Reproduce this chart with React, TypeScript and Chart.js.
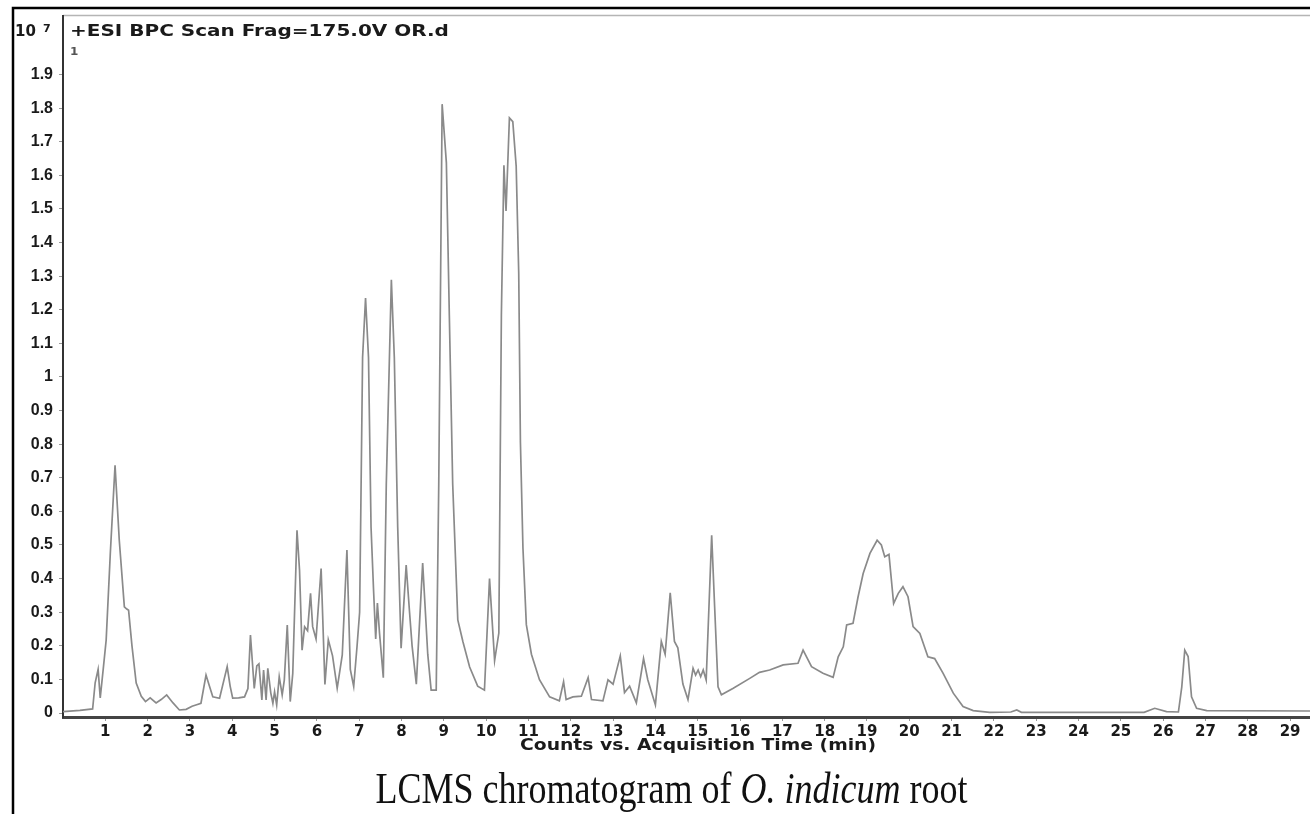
import React, { useEffect, useRef } from 'react';
import { Chart, registerables } from 'chart.js';

Chart.register(...registerables);

// Acquisition time (min)
const times = [
  0.0, 0.4, 0.7, 0.76, 0.83, 0.88, 0.95, 1.02, 1.12, 1.23, 1.33, 1.45, 1.5, 1.55, 1.63, 1.73, 1.85, 1.95,
  2.06, 2.2, 2.32, 2.45, 2.6, 2.75, 2.91, 3.05, 3.14, 3.26, 3.38, 3.46, 3.54, 3.7, 3.88, 3.95, 4.01, 4.15,
  4.29, 4.37, 4.43, 4.52, 4.58, 4.63, 4.7, 4.74, 4.8, 4.84, 4.91, 4.96, 5.0, 5.05, 5.11, 5.18, 5.23, 5.3,
  5.37, 5.43, 5.53, 5.59, 5.65, 5.71, 5.78, 5.85, 5.9, 5.98, 6.1, 6.19, 6.27, 6.37, 6.48, 6.6, 6.71, 6.79,
  6.87, 6.95, 7.01, 7.08, 7.15, 7.22, 7.28, 7.34, 7.39, 7.43, 7.48, 7.57, 7.64, 7.76, 7.83, 7.91, 7.99,
  8.11, 8.19, 8.25, 8.35, 8.5, 8.62, 8.7, 8.82, 8.88, 8.96, 9.06, 9.13, 9.21, 9.33, 9.45, 9.61, 9.8, 9.96,
  10.08, 10.2, 10.3, 10.36, 10.42, 10.47, 10.55, 10.63, 10.71, 10.77, 10.81, 10.87, 10.95, 11.07, 11.26,
  11.5, 11.73, 11.83, 11.89, 12.05, 12.25, 12.41, 12.49, 12.76, 12.88, 13.0, 13.17, 13.27, 13.39, 13.55,
  13.72, 13.82, 14.0, 14.14, 14.23, 14.35, 14.45, 14.53, 14.65, 14.77, 14.89, 14.95, 15.01, 15.07, 15.13,
  15.2, 15.33, 15.4, 15.48, 15.56, 15.83, 16.23, 16.46, 16.7, 17.02, 17.37, 17.49, 17.69, 17.96, 18.2,
  18.32, 18.44, 18.52, 18.67, 18.79, 18.91, 19.07, 19.24, 19.34, 19.42, 19.52, 19.63, 19.74, 19.85, 19.97,
  20.09, 20.25, 20.44, 20.6, 20.8, 21.04, 21.27, 21.51, 21.9, 22.4, 22.54, 22.65, 25.55, 25.8, 26.08,
  26.36, 26.44, 26.51, 26.59, 26.67, 26.79, 27.03, 29.5,
];

// Counts (x10^7)
const counts = [
  0.004, 0.008, 0.012, 0.09, 0.13, 0.045, 0.13, 0.217, 0.48, 0.737, 0.514, 0.316, 0.31, 0.306, 0.2, 0.089, 0.05, 0.034,
  0.045, 0.03, 0.04, 0.054, 0.03, 0.009, 0.011, 0.02, 0.024, 0.029, 0.113, 0.08, 0.048, 0.044, 0.138, 0.08, 0.044, 0.045,
  0.048, 0.073, 0.232, 0.073, 0.14, 0.146, 0.039, 0.128, 0.039, 0.133, 0.06, 0.029, 0.063, 0.024, 0.108, 0.054, 0.098, 0.262,
  0.034, 0.118, 0.544, 0.425, 0.187, 0.257, 0.245, 0.356, 0.257, 0.22, 0.43, 0.085, 0.218, 0.17, 0.074, 0.173, 0.485, 0.13,
  0.079, 0.2, 0.3, 1.058, 1.235, 1.058, 0.553, 0.364, 0.22, 0.327, 0.238, 0.105, 0.68, 1.289, 1.058, 0.553, 0.193,
  0.44, 0.3, 0.2, 0.086, 0.446, 0.175, 0.068, 0.068, 0.68, 1.812, 1.638, 1.184, 0.68, 0.277, 0.213, 0.137, 0.08, 0.068,
  0.4, 0.156, 0.238, 1.184, 1.63, 1.494, 1.771, 1.76, 1.627, 1.31, 0.806, 0.49, 0.263, 0.175, 0.099,
  0.048, 0.036, 0.093, 0.04, 0.048, 0.05, 0.105, 0.04, 0.036, 0.099, 0.086, 0.17, 0.061, 0.08, 0.03,
  0.162, 0.099, 0.024, 0.213, 0.175, 0.358, 0.213, 0.194, 0.086, 0.04, 0.133, 0.113, 0.128, 0.108, 0.128,
  0.098, 0.529, 0.316, 0.078, 0.054, 0.073, 0.103, 0.121, 0.128, 0.143, 0.148, 0.187, 0.138, 0.118, 0.106,
  0.167, 0.197, 0.262, 0.267, 0.346, 0.415, 0.475, 0.514, 0.5, 0.465, 0.472, 0.326, 0.356, 0.376, 0.346,
  0.257, 0.237, 0.167, 0.162, 0.118, 0.059, 0.019, 0.007, 0.002, 0.003, 0.009, 0.002, 0.002, 0.014, 0.004,
  0.003, 0.078, 0.187, 0.168, 0.048, 0.014, 0.007, 0.006,
];

const xTickValues = [1, 2, 3, 4, 5, 6, 7, 8, 9, 10, 11, 12, 13, 14, 15, 16, 17, 18, 19, 20, 21, 22, 23, 24, 25, 26, 27, 28, 29];
const yTickValues = [0, 0.1, 0.2, 0.3, 0.4, 0.5, 0.6, 0.7, 0.8, 0.9, 1, 1.1, 1.2, 1.3, 1.4, 1.5, 1.6, 1.7, 1.8, 1.9];
const yTickLabels = ['0', '0.1', '0.2', '0.3', '0.4', '0.5', '0.6', '0.7', '0.8', '0.9', '1', '1.1', '1.2', '1.3', '1.4', '1.5', '1.6', '1.7', '1.8', '1.9'];

const traceLabel = '+ESI BPC Scan Frag=175.0V OR.d';
const traceIndex = '1';
const exponentBase = '10';
const exponentPower = '7';
const xAxisTitle = 'Counts vs. Acquisition Time (min)';
const captionParts = [
  { text: 'LCMS chromatogram of ', italic: false },
  { text: 'O. indicum', italic: true },
  { text: ' root', italic: false },
];

function drawStretched(ctx: CanvasRenderingContext2D, text: string, x: number, y: number, font: string, sx: number, sy: number, align: CanvasTextAlign, color: string) {
  ctx.save();
  ctx.translate(x, y);
  ctx.scale(sx, sy);
  ctx.font = font;
  ctx.textAlign = align;
  ctx.textBaseline = 'alphabetic';
  ctx.fillStyle = color;
  ctx.fillText(text, 0, 0);
  ctx.restore();
}

const decorPlugin = {
  id: 'decor',
  beforeDraw(chart: any) {
    const ctx: CanvasRenderingContext2D = chart.ctx;
    const { left, top, right } = chart.chartArea;
    ctx.save();
    ctx.fillStyle = '#ffffff';
    ctx.fillRect(0, 0, chart.width, chart.height);
    ctx.strokeStyle = '#000000';
    ctx.lineWidth = 2.5;
    ctx.beginPath();
    ctx.moveTo(13, chart.height);
    ctx.lineTo(13, 8);
    ctx.lineTo(chart.width, 8);
    ctx.stroke();
    ctx.strokeStyle = '#b5b5b5';
    ctx.lineWidth = 1.5;
    ctx.beginPath();
    ctx.moveTo(left, top);
    ctx.lineTo(right, top);
    ctx.stroke();
    ctx.restore();
  },
  afterDraw(chart: any) {
    const ctx: CanvasRenderingContext2D = chart.ctx;
    drawStretched(ctx, traceLabel, 70, 36, 'bold 16px "DejaVu Sans"', 1.25, 1, 'left', '#1a1a1a');
    drawStretched(ctx, traceIndex, 70, 55, 'bold 10px "DejaVu Sans"', 1.2, 1, 'left', '#555555');
    drawStretched(ctx, exponentBase, 15, 36, 'bold 15px "DejaVu Sans"', 1, 1, 'left', '#1a1a1a');
    drawStretched(ctx, exponentPower, 43, 32, 'bold 11px "DejaVu Sans"', 1, 1, 'left', '#1a1a1a');
    drawStretched(ctx, xAxisTitle, 698, 750, 'bold 15px "DejaVu Sans"', 1.25, 1, 'center', '#1a1a1a');

    // caption with mixed styles
    const fontN = '36px "Liberation Serif"';
    const fontI = 'italic 36px "Liberation Serif"';
    ctx.save();
    let total = 0;
    const widths = captionParts.map((p) => {
      ctx.font = p.italic ? fontI : fontN;
      const w = ctx.measureText(p.text).width;
      total += w;
      return w;
    });
    let x = 671.5 - total / 2;
    captionParts.forEach((p, i) => {
      drawStretched(ctx, p.text, x, 803, p.italic ? fontI : fontN, 1, 1.25, 'left', '#111111');
      x += widths[i];
    });
    ctx.restore();
  },
};

export default function App() {
  const canvasRef = useRef<HTMLCanvasElement | null>(null);

  useEffect(() => {
    if (!canvasRef.current) return;
    const points = times.map((t, i) => ({ x: t, y: counts[i] }));
    const chart = new Chart(canvasRef.current, {
      type: 'line',
      data: {
        datasets: [
          {
            label: traceLabel,
            data: points,
            borderColor: '#8a8a8a',
            borderWidth: 1.7,
            pointRadius: 0,
            tension: 0,
            fill: false,
          },
        ],
      },
      options: {
        responsive: false,
        devicePixelRatio: 1,
        animation: false,
        layout: { padding: { top: 15, left: 0, right: 0, bottom: 0 } },
        plugins: {
          legend: { display: false },
          tooltip: { enabled: false },
          title: { display: false },
        },
        scales: {
          x: {
            type: 'linear',
            min: 0,
            max: 29.47,
            afterBuildTicks: (scale: any) => {
              scale.ticks = xTickValues.map((v) => ({ value: v }));
            },
            afterFit: (scale: any) => {
              scale.height = 97;
            },
            grid: { drawOnChartArea: false, drawTicks: true, tickLength: 4, color: '#999999' },
            border: { display: true, color: '#444444', width: 3 },
            ticks: {
              autoSkip: false,
              maxRotation: 0,
              padding: 2,
              color: '#1a1a1a',
              font: { family: '"DejaVu Sans"', weight: 'bold', size: 15 },
            },
          },
          y: {
            type: 'linear',
            min: -0.0119,
            max: 2.0755,
            afterBuildTicks: (scale: any) => {
              scale.ticks = yTickValues.map((v) => ({ value: v }));
            },
            afterFit: (scale: any) => {
              scale.width = 63;
            },
            grid: { drawOnChartArea: false, drawTicks: true, tickLength: 4, color: '#999999' },
            border: { display: true, color: '#333333', width: 2 },
            ticks: {
              padding: 6,
              color: '#1a1a1a',
              font: { family: '"Liberation Sans"', weight: 'bold', size: 16 },
              callback: (_v: any, i: number) => yTickLabels[i],
            },
          },
        },
      },
      plugins: [decorPlugin],
    });
    return () => chart.destroy();
  }, []);

  return (
    <div style={{ position: 'absolute', left: 0, top: 0, width: 1310, height: 814, background: '#fff' }}>
      <canvas ref={canvasRef} width={1310} height={814} style={{ display: 'block', width: 1310, height: 814 }} />
    </div>
  );
}
